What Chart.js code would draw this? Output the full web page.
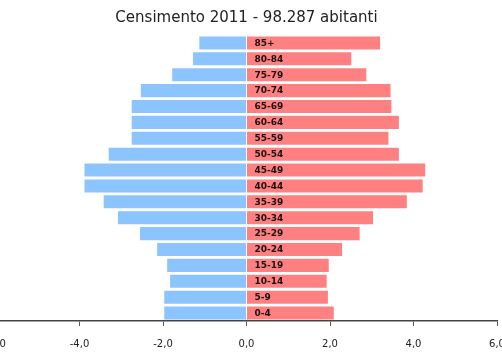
<!DOCTYPE html>
<html>
<head>
<meta charset="utf-8">
<script src="https://cdn.jsdelivr.net/npm/chart.js@4"></script>
<style>
  html, body { margin: 0; padding: 0; overflow: hidden; background: #fff; }
  #wrap { position: absolute; left: -30px; top: 0; width: 560px; height: 371px; }
</style>
</head>
<body>
<div id="wrap"><canvas id="pyramid"></canvas></div>
<script>
// Data (top row first)
const ageGroups = ['85+', '80-84', '75-79', '70-74', '65-69', '60-64', '55-59', '50-54', '45-49',
                   '40-44', '35-39', '30-34', '25-29', '20-24', '15-19', '10-14', '5-9', '0-4'];
const males   = [1.13, 1.28, 1.78, 2.53, 2.75, 2.75, 2.75, 3.30, 3.88,
                 3.88, 3.42, 3.08, 2.55, 2.14, 1.90, 1.83, 1.97, 1.97];
const females = [3.20, 2.51, 2.87, 3.45, 3.47, 3.65, 3.40, 3.65, 4.28,
                 4.22, 3.84, 3.03, 2.71, 2.29, 1.97, 1.92, 1.95, 2.09];
const xTicks = [-6, -4, -2, 0, 2, 4, 6];
const chartTitle = 'Censimento 2011 - 98.287 abitanti';

const fontFamily = '"DejaVu Sans", Verdana, sans-serif';

// labels drawn inside the bars, right of zero
const ageLabels = {
    id: 'ageLabels',
    afterDatasetsDraw(chart) {
        const { ctx, scales: { x, y } } = chart;
        ctx.save();
        ctx.font = 'bold 9px ' + fontFamily;
        ctx.fillStyle = '#1a1010';
        ctx.textAlign = 'left';
        ctx.textBaseline = 'middle';
        ageGroups.forEach((lab, i) => {
            ctx.fillText(lab, x.getPixelForValue(0) + 8, y.getPixelForValue(i) + 0.5);
        });
        ctx.restore();
    }
};

const ctx = document.getElementById('pyramid').getContext('2d');

new Chart(ctx, {
    type: 'bar',
    data: {
        labels: ageGroups,
        datasets: [{
            label: 'Maschi',
            data: males.map(v => -v),
            backgroundColor: 'rgb(140,196,255)',
            barPercentage: 0.82,
            categoryPercentage: 1
        }, {
            label: 'Femmine',
            data: females,
            backgroundColor: 'rgb(255,128,128)',
            barPercentage: 0.82,
            categoryPercentage: 1
        }]
    },
    options: {
        indexAxis: 'y',
        responsive: true,
        maintainAspectRatio: false,
        animation: false,
        layout: { padding: { left: 26, right: 33, top: 0, bottom: 9 } },
        plugins: {
            legend: { display: false },
            tooltip: { enabled: false },
            title: {
                display: true,
                text: chartTitle,
                color: '#222',
                font: { family: fontFamily, size: 15, weight: 'normal' },
                padding: { top: 9, bottom: 8 }
            }
        },
        scales: {
            x: {
                stacked: true,
                min: -6,
                max: 6,
                afterBuildTicks(scale) {
                    scale.ticks = xTicks.map(v => ({ value: v }));
                },
                ticks: {
                    color: '#222',
                    padding: 12,
                    maxRotation: 0,
                    font: { family: fontFamily, size: 10 },
                    callback: v => v.toFixed(1).replace('.', ',')
                },
                grid: { drawOnChartArea: false, drawTicks: true, tickLength: 5, color: '#555' },
                border: { display: true, color: '#444', width: 1.5 }
            },
            y: {
                stacked: true,
                display: false
            }
        }
    },
    plugins: [ageLabels]
});
</script>
</body>
</html>
